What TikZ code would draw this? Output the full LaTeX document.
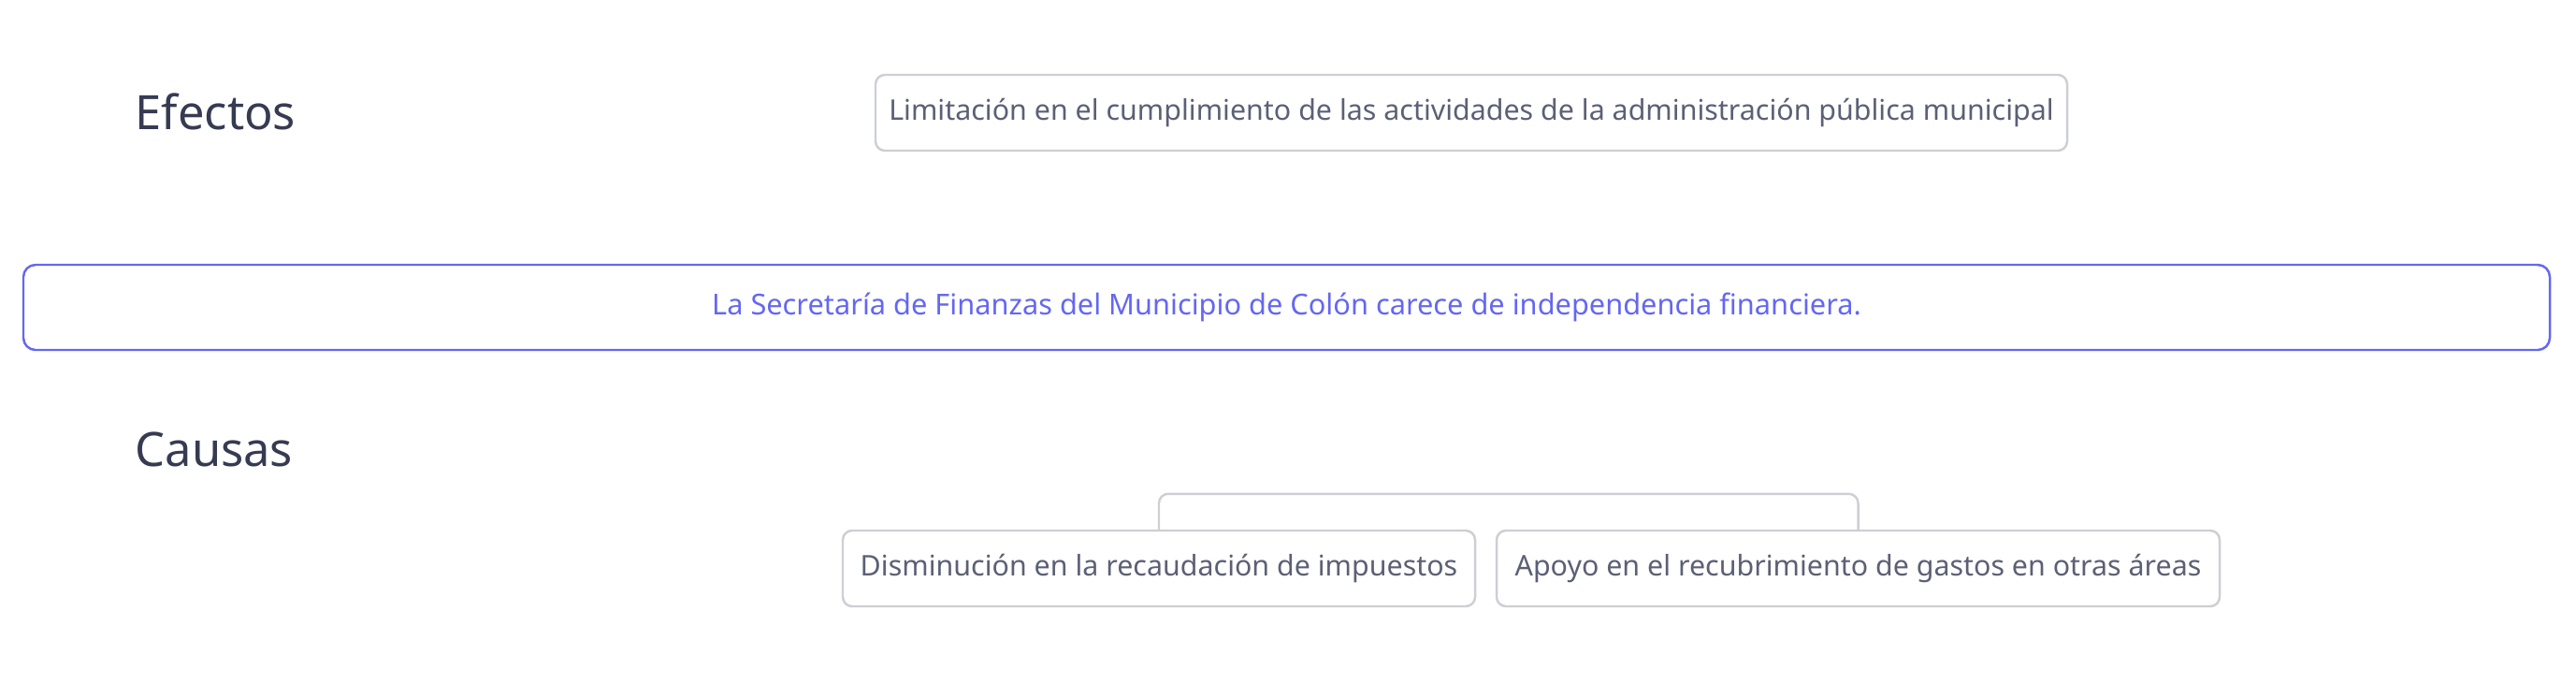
\documentclass[tikz,border=0pt]{standalone}
\usepackage{fontspec}
\setmainfont{Noto Sans}
\usepackage{tikz}
\usetikzlibrary{positioning}
\definecolor{boxgray}{HTML}{CDCFD4}
\definecolor{textgray}{HTML}{5B6075}
\definecolor{headdark}{HTML}{363B52}
\definecolor{probblue}{HTML}{6467F2}
\tikzset{
    tree box/.style={
        draw=boxgray,line width=0.7pt,rounded corners=1mm,
        fill=white,text=textgray,
        minimum height=0.81cm,inner sep=0pt,
        font=\fontsize{8.65}{10}\selectfont
    },
    problem box/.style={
        draw=probblue,line width=0.7pt,rounded corners=1.3mm,
        text=probblue,
        minimum width=27.01cm,minimum height=0.91cm,inner sep=0pt,
        font=\fontsize{8.75}{10}\selectfont
    },
    heading/.style={
        anchor=west,inner sep=0pt,text=headdark,
        font=\fontsize{14.4}{17}\selectfont
    },
}

\begin{document}
\begin{tikzpicture}
	\useasboundingbox (0,0) rectangle (27.54,-7.3);
	\node[heading] (efectos) at (1.44,-1.19) {Efectos};
	\node[heading] (causas) at (1.44,-4.80) {Causas};

	\node[tree box,minimum width=12.74cm] (efecto) at (15.73,-1.205)
		{Limitación en el cumplimiento de las actividades de la administración pública municipal};

	\node[problem box] (problema) at (13.755,-3.285)
		{La Secretaría de Finanzas del Municipio de Colón carece de independencia financiera.};

	\node[tree box,minimum width=6.76cm] (causa1) at (12.39,-6.075)
		{Disminución en la recaudación de impuestos};
	\node[tree box,minimum width=7.73cm] (causa2) at (19.865,-6.075)
		{Apoyo en el recubrimiento de gastos en otras áreas};

	\draw[boxgray,line width=0.7pt,rounded corners=1mm]
		(causa1.north) -- ++(0,0.38) -| (causa2.north);
\end{tikzpicture}
\end{document}
